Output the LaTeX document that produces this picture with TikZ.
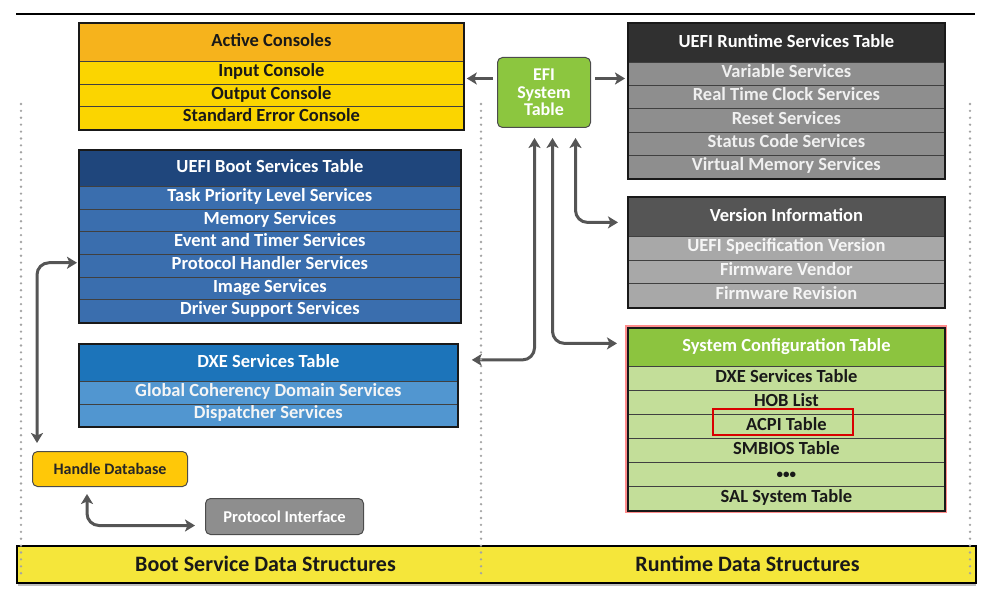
\documentclass[tikz,border=0pt]{standalone}
\usepackage{fontspec}
\setmainfont{Carlito}
\usetikzlibrary{arrows.meta,calc,fit}

% palette
\definecolor{acHead}{HTML}{F6B31C}
\definecolor{acRow}{HTML}{FBD500}
\definecolor{rtHead}{HTML}{303030}
\definecolor{rtRow}{HTML}{8E8E8E}
\definecolor{viHead}{HTML}{555555}
\definecolor{viRow}{HTML}{A8A8A8}
\definecolor{bsHead}{HTML}{1F467C}
\definecolor{bsRow}{HTML}{3A6EAE}
\definecolor{dxHead}{HTML}{1C74BA}
\definecolor{dxRow}{HTML}{5196D0}
\definecolor{scHead}{HTML}{8CC43F}
\definecolor{scRow}{HTML}{C3DE99}
\definecolor{efiGreen}{HTML}{8CC63F}
\definecolor{hdYellow}{HTML}{FFC808}
\definecolor{piGray}{HTML}{8E8E8E}
\definecolor{barYellow}{HTML}{F5E63A}
\definecolor{wire}{HTML}{555555}
\definecolor{dotGray}{HTML}{A3A3A3}

\begin{document}
\begin{tikzpicture}[x=1pt,y=-1pt,
  cell/.style={draw=black!75, line width=0.8pt, inner sep=0pt, anchor=north west,
    font=\bfseries\fontsize{18.5}{20}\selectfont, text height=0.86em, text depth=0.12em},
  headcell/.style={cell, text height=1.0em, text depth=0.1em},
  frame/.style={draw=black!90, line width=2pt, inner sep=0pt},
  pill/.style={rounded corners=5pt, line width=1pt, draw=black!70, anchor=north west,
    inner sep=0pt, font=\bfseries\fontsize{16}{18}\selectfont},
  conn/.style={draw=wire, line width=3pt, rounded corners=12pt,
    >={Stealth[length=10pt,width=12pt,inset=2.5pt]}},
  dotline/.style={dotGray, line width=2.6pt, line cap=round, dash pattern=on 0pt off 6.9pt},
  barlabel/.style={font=\bfseries\fontsize{22}{24}\selectfont, text=black!90}
]
\useasboundingbox (0,0) rectangle (986,596);

% rule across the top
\draw[line width=1.3pt] (16,14) -- (975,14);

% ---------- Active Consoles ----------
\node[headcell, fill=acHead, text=black!90, minimum width=384pt, minimum height=38pt] (ac) at (79,23) {Active Consoles};
\foreach \t [count=\i] in {Input Console, Output Console, Standard Error Console}
  \node[cell, fill=acRow, text=black!90, minimum width=384pt, minimum height=22.67pt] (ac-\i) at (79,{61+(\i-1)*22.67}) {\t};
\node[frame, fit=(ac)(ac-3)] (acbox) {};

% ---------- UEFI Runtime Services Table ----------
\node[headcell, fill=rtHead, text=white, minimum width=316pt, minimum height=39pt] (rt) at (628,23) {UEFI Runtime Services Table};
\foreach \t [count=\i] in {Variable Services, Real Time Clock Services, Reset Services, Status Code Services, Virtual Memory Services}
  \node[cell, fill=rtRow, text=black!6, minimum width=316pt, minimum height=23.2pt] (rt-\i) at (628,{62+(\i-1)*23.2}) {\t};
\node[frame, fit=(rt)(rt-5)] (rtbox) {};

% ---------- Version Information ----------
\node[headcell, fill=viHead, text=white, minimum width=316pt, minimum height=39pt] (vi) at (628,197) {Version Information};
\foreach \t [count=\i] in {UEFI Specification Version, Firmware Vendor, Firmware Revision}
  \node[cell, fill=viRow, text=black!4, minimum width=316pt, minimum height=23.67pt] (vi-\i) at (628,{236+(\i-1)*23.67}) {\t};
\node[frame, fit=(vi)(vi-3)] (vibox) {};

% ---------- UEFI Boot Services Table ----------
\node[headcell, fill=bsHead, text=white, minimum width=381pt, minimum height=36pt] (bs) at (79,150) {UEFI Boot Services Table};
\foreach \t [count=\i] in {Task Priority Level Services, Memory Services, Event and Timer Services, Protocol Handler Services, Image Services, Driver Support Services}
  \node[cell, fill=bsRow, text=white, minimum width=381pt, minimum height=22.67pt] (bs-\i) at (79,{186+(\i-1)*22.67}) {\t};
\node[frame, fit=(bs)(bs-6)] (bsbox) {};

% ---------- DXE Services Table ----------
\node[headcell, fill=dxHead, text=white, minimum width=378pt, minimum height=37pt] (dxe) at (79,344) {DXE Services Table};
\foreach \t [count=\i] in {Global Coherency Domain Services, Dispatcher Services}
  \node[cell, fill=dxRow, text=black!4, minimum width=378pt, minimum height=22.5pt] (dxe-\i) at (79,{381+(\i-1)*22.5}) {\t};
\node[frame, fit=(dxe)(dxe-2)] (dxebox) {};

% ---------- System Configuration Table ----------
\node[headcell, fill=scHead, text=white, minimum width=316pt, minimum height=38pt] (sc) at (628,328) {System Configuration Table};
\foreach \t [count=\i] in {DXE Services Table, HOB List, ACPI Table, SMBIOS Table, {\fontsize{13}{13}\selectfont\textbullet\textbullet\textbullet}, SAL System Table}
  \node[cell, fill=scRow, text=black!90, minimum width=316pt, minimum height=24pt] (sc-\i) at (628,{366+(\i-1)*24}) {\t};
\node[draw=red!45, line width=1.2pt, inner sep=2pt, fit=(sc)(sc-6)] (scglow) {};
\node[frame, fit=(sc)(sc-6)] (scbox) {};
\node[draw=red!85!black, line width=1.8pt, minimum width=140pt, minimum height=26pt, inner sep=0pt] (acpimark) at (783,422) {};

% ---------- EFI System Table ----------
\node[pill, fill=efiGreen, text=white, minimum width=93pt, minimum height=70pt, align=center,
  font=\bfseries\fontsize{18}{17.5}\selectfont] (est) at (497,57) {EFI\\System\\Table};

% ---------- Handle Database / Protocol Interface ----------
\node[pill, fill=hdYellow, text=black!85, minimum width=155pt, minimum height=35pt] (hd) at (32,451) {Handle Database};
\node[pill, fill=piGray, text=white, minimum width=158pt, minimum height=36pt,
  font=\bfseries\fontsize{16.5}{18}\selectfont] (pi) at (205,498) {Protocol Interface};

% ---------- connectors ----------
\draw[conn,->] ($(est.west)+(-4,-14)$) -- ($(est.west -| ac.east)+(3,-14)$);
\draw[conn,->] ($(est.east)+(4,-14)$) -- ($(est.east -| rt.west)+(-3,-14)$);
\draw[conn,<->] ($(est.south)+(-9.5,10)$) |- ($(dxe.east)+(14,-3)$);
\draw[conn,<->] ($(est.south)+(8.5,10)$) |- ($(sc.west)+(-11,-4)$);
\draw[conn,<->] ($(est.south)+(31.5,10)$) |- ($(vi.west)+(-10,5.5)$);
\draw[conn,<->] ($(hd.north west)+(5,-8)$) |- ($(bs-4.west)+(-2,-3)$);
\draw[conn,<->] ($(hd.south west)+(55,7)$) |- ($(pi.west)+(-10,9)$);

% ---------- bottom bar ----------
\draw[black!25, line width=2pt] (18,584.5) -- (976,584.5);
\node[fill=barYellow, draw=black, line width=2pt, minimum width=959pt, minimum height=37pt,
  inner sep=0pt, anchor=north west] (bar) at (16,545) {};
\node[barlabel] (bootlbl) at (265.5,564) {Boot Service Data Structures};
\node[barlabel] (rtlbl) at (747.5,564) {Runtime Data Structures};

% ---------- dotted column guides ----------
\draw[dotline] (21,104) -- (21,580);
\draw[dotline] (481,104) -- (481,580);
\draw[dotline] (970,104) -- (970,580);
\end{tikzpicture}
\end{document}
